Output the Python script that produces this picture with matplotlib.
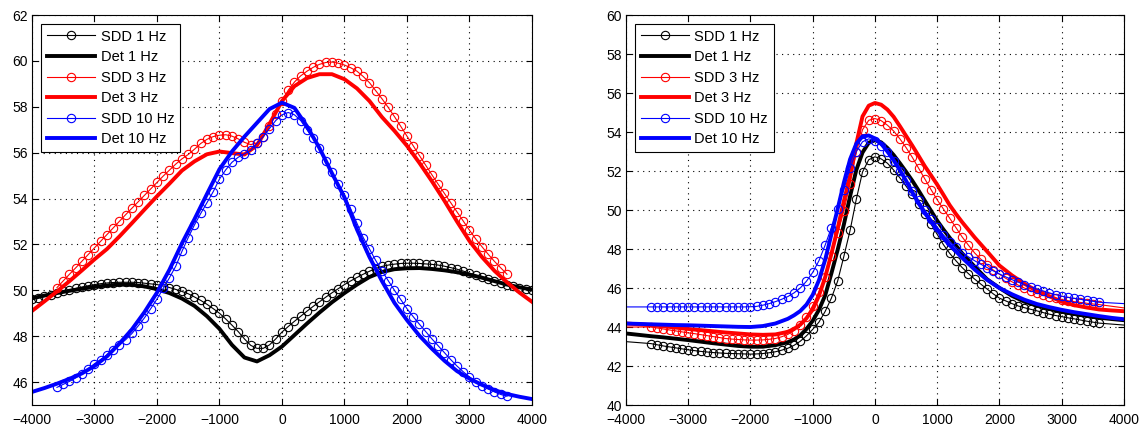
import matplotlib
matplotlib.use('Agg')
import matplotlib.pyplot as plt

plt.rcParams['font.family'] = ['Liberation Sans', 'DejaVu Sans']

# ---- left panel data ----
x_left_det = list(range(-4000, 4001, 200))
x_left_sdd1 = list(range(-4000, 4001, 100))
x_left_sdd = list(range(-3600, 3601, 100))

sdd1_left = [49.60, 49.67, 49.74, 49.81, 49.88, 49.95, 50.02, 50.08, 50.14, 50.20,
             50.25, 50.29, 50.32, 50.34, 50.35, 50.35, 50.35, 50.34, 50.31, 50.28,
             50.25, 50.19, 50.12, 50.04, 49.95, 49.85, 49.71, 49.56, 49.39, 49.20,
             49.00, 48.75, 48.48, 48.20, 47.88, 47.60, 47.47, 47.47, 47.62, 47.88,
             48.18, 48.42, 48.65, 48.87, 49.09, 49.30, 49.50, 49.70, 49.89, 50.07,
             50.25, 50.41, 50.56, 50.70, 50.83, 50.95, 51.04, 51.10, 51.14, 51.17,
             51.18, 51.18, 51.17, 51.15, 51.13, 51.10, 51.05, 50.99, 50.92, 50.84,
             50.75, 50.66, 50.57, 50.48, 50.39, 50.30, 50.23, 50.17, 50.11, 50.05,
             50.00]
det1_left = [49.65, 49.77, 49.88, 49.98, 50.07, 50.15, 50.21, 50.25, 50.24, 50.17,
             50.05, 49.88, 49.64, 49.32, 48.87, 48.32, 47.62, 47.07, 46.90, 47.17,
             47.55, 48.05, 48.55, 49.03, 49.48, 49.88, 50.25, 50.58, 50.80, 50.92,
             50.96, 50.97, 50.93, 50.87, 50.79, 50.68, 50.55, 50.40, 50.25, 50.13,
             50.03]
sdd3_left = [50.12, 50.41, 50.70, 50.98, 51.27, 51.56, 51.85, 52.14, 52.43, 52.72,
             53.01, 53.30, 53.58, 53.86, 54.14, 54.42, 54.70, 54.98, 55.24, 55.50,
             55.73, 55.92, 56.15, 56.40, 56.58, 56.70, 56.76, 56.78, 56.72, 56.60,
             56.45, 56.35, 56.42, 56.70, 57.15, 57.70, 58.25, 58.72, 59.08, 59.35,
             59.55, 59.72, 59.85, 59.93, 59.95, 59.90, 59.82, 59.70, 59.55, 59.32,
             59.05, 58.70, 58.35, 57.97, 57.57, 57.15, 56.72, 56.30, 55.87, 55.45,
             55.03, 54.62, 54.22, 53.82, 53.42, 53.02, 52.62, 52.24, 51.90, 51.57,
             51.26, 50.98, 50.70]
det3_left = [49.10, 49.52, 49.95, 50.40, 50.87, 51.35, 51.80, 52.35, 52.93, 53.52,
             54.10, 54.65, 55.22, 55.62, 55.93, 56.05, 55.98, 55.92, 56.32, 57.25,
             58.25, 58.90, 59.25, 59.42, 59.42, 59.20, 58.80, 58.25, 57.55, 56.95,
             56.30, 55.55, 54.75, 53.90, 53.00, 52.15, 51.45, 50.85, 50.35, 49.90,
             49.50]
sdd10_left = [45.77, 45.90, 46.03, 46.18, 46.35, 46.58, 46.80, 46.98, 47.18, 47.40,
              47.62, 47.85, 48.12, 48.45, 48.80, 49.20, 49.62, 50.08, 50.55, 51.05,
              51.70, 52.30, 52.85, 53.35, 53.82, 54.30, 54.85, 55.25, 55.58, 55.80,
              55.95, 56.10, 56.40, 56.70, 57.05, 57.40, 57.65, 57.75, 57.65, 57.40,
              57.00, 56.62, 56.20, 55.65, 55.15, 54.65, 54.15, 53.55, 52.92, 52.30,
              51.80, 51.30, 50.85, 50.42, 50.00, 49.60, 49.20, 48.85, 48.52, 48.20,
              47.88, 47.58, 47.28, 46.98, 46.70, 46.45, 46.22, 46.00, 45.85, 45.70,
              45.57, 45.46, 45.38]
det10_left = [45.57, 45.74, 45.93, 46.14, 46.38, 46.70, 47.12, 47.68, 48.30, 49.05,
              49.90, 50.90, 52.05, 53.10, 54.20, 55.28, 56.05, 56.70, 57.30, 57.90,
              58.18, 57.95, 57.15, 56.20, 55.10, 54.05, 52.65, 51.45, 50.40, 49.45,
              48.70, 48.02, 47.45, 46.93, 46.48, 46.15, 45.88, 45.65, 45.48, 45.36,
              45.26]

# ---- right panel data ----
x_right_det = list(range(-4000, -1399, 200)) + list(range(-1300, 1301, 100)) + list(range(1400, 4001, 200))
x_right_sdd = [-4000] + list(range(-3600, 3601, 100)) + [4000]

sdd1_right = [43.25,
              43.15, 43.09, 43.03, 42.98, 42.93, 42.88, 42.83, 42.79, 42.75, 42.72,
              42.69, 42.67, 42.65, 42.64, 42.63, 42.62, 42.61, 42.62, 42.64, 42.68,
              42.73, 42.81, 42.91, 43.06, 43.27, 43.55, 43.88, 44.25, 44.80, 45.48,
              46.35, 47.62, 48.95, 50.55, 51.95, 52.58, 52.73, 52.62, 52.40, 52.05,
              51.65, 51.22, 50.80, 50.30, 49.78, 49.28, 48.75, 48.22, 47.78, 47.40,
              47.05, 46.74, 46.46, 46.20, 45.95, 45.70, 45.48, 45.34, 45.20, 45.08,
              44.99, 44.91, 44.83, 44.74, 44.66, 44.59, 44.53, 44.47, 44.42, 44.36,
              44.30, 44.25, 44.20,
              44.10]
det1_right = [43.67, 43.60, 43.53, 43.47, 43.40, 43.33, 43.25, 43.17, 43.10, 43.03,
              42.99, 42.99, 43.07, 43.22,
              43.36, 43.57, 43.90, 44.32, 44.88, 45.62, 46.75, 47.95, 49.25, 50.70,
              52.05, 52.95, 53.45, 53.58, 53.47, 53.18, 52.82, 52.40, 51.96, 51.50,
              51.00, 50.48, 49.96, 49.45, 49.00, 48.58, 48.18,
              47.78, 47.10, 46.45, 46.00, 45.60, 45.30, 45.10, 44.93, 44.79, 44.67,
              44.57, 44.48, 44.41, 44.35]
sdd3_right = [44.00,
              44.00, 43.95, 43.90, 43.85, 43.80, 43.75, 43.70, 43.66, 43.61, 43.56,
              43.51, 43.46, 43.41, 43.38, 43.36, 43.34, 43.33, 43.33, 43.34, 43.37,
              43.41, 43.50, 43.62, 43.82, 44.10, 44.52, 45.10, 45.80, 46.55, 47.65,
              48.80, 49.95, 51.35, 52.95, 54.12, 54.60, 54.69, 54.58, 54.35, 54.05,
              53.65, 53.20, 52.70, 52.15, 51.60, 51.05, 50.52, 50.05, 49.58, 49.10,
              48.62, 48.20, 47.80, 47.48, 47.18, 46.92, 46.70, 46.50, 46.32, 46.15,
              46.00, 45.87, 45.75, 45.65, 45.56, 45.48, 45.41, 45.35, 45.30, 45.26,
              45.22, 45.18, 45.15,
              44.98]
det3_right = [44.18, 44.14, 44.09, 44.04, 43.97, 43.90, 43.84, 43.78, 43.72, 43.67,
              43.62, 43.60, 43.62, 43.75,
              43.90, 44.12, 44.45, 44.90, 45.60, 46.55, 47.75, 49.05, 50.45, 51.75,
              53.40, 54.80, 55.35, 55.49, 55.40, 55.15, 54.78, 54.30, 53.80, 53.30,
              52.78, 52.25, 51.78, 51.30, 50.78, 50.25, 49.80,
              49.38, 48.60, 47.88, 47.15, 46.65, 46.22, 45.85, 45.58, 45.30, 45.12,
              45.00, 44.90, 44.85, 44.81]
sdd10_right = [45.03,
               45.03, 45.03, 45.03, 45.03, 45.03, 45.03, 45.03, 45.03, 45.03, 45.03,
               45.03, 45.03, 45.03, 45.03, 45.03, 45.03, 45.04, 45.06, 45.12, 45.20,
               45.30, 45.42, 45.56, 45.75, 46.00, 46.35, 46.80, 47.40, 48.20, 49.10,
               50.05, 51.05, 52.15, 53.00, 53.50, 53.65, 53.55, 53.30, 52.95, 52.50,
               52.02, 51.52, 51.00, 50.50, 50.00, 49.55, 49.12, 48.72, 48.38, 48.08,
               47.82, 47.60, 47.40, 47.22, 47.05, 46.88, 46.72, 46.57, 46.43, 46.30,
               46.18, 46.06, 45.95, 45.85, 45.75, 45.66, 45.58, 45.52, 45.47, 45.42,
               45.37, 45.32, 45.27,
               45.20]
det10_right = [44.18, 44.16, 44.14, 44.12, 44.10, 44.09, 44.07, 44.05, 44.03, 44.01,
               44.00, 44.05, 44.18, 44.42,
               44.60, 44.82, 45.15, 45.65, 46.40, 47.45, 48.75, 50.05, 51.40, 52.60,
               53.40, 53.78, 53.82, 53.67, 53.40, 53.00, 52.55, 52.05, 51.50, 50.90,
               50.35, 49.85, 49.40, 49.00, 48.55, 48.20, 47.88,
               47.55, 46.95, 46.42, 46.00, 45.68, 45.40, 45.18, 45.02, 44.88, 44.76,
               44.66, 44.56, 44.47, 44.40]

labels = ['SDD 1 Hz', 'Det 1 Hz', 'SDD 3 Hz', 'Det 3 Hz', 'SDD 10 Hz', 'Det 10 Hz']
colors = ['black', 'red', 'blue']
xticks = list(range(-4000, 4001, 1000))
yticks_left = list(range(46, 63, 2))
yticks_right = list(range(40, 61, 2))


def draw_panel(ax, sdd, det, ylim, yticks, markevery):
    for i in range(3):
        xs, ys = sdd[i]
        ax.plot(xs, ys, color=colors[i], linewidth=0.8, marker='o', markersize=6,
                markerfacecolor='none', markeredgewidth=0.8, markevery=markevery[i],
                label=labels[2 * i])
        xd, yd = det[i]
        ax.plot(xd, yd, color=colors[i], linewidth=2.8, label=labels[2 * i + 1])

    ax.set_xlim([-4000, 4000])
    ax.set_ylim(ylim)
    ax.set_xticks(xticks)
    ax.set_yticks(yticks)

    # Add a grid
    ax.grid(True, color='black', linestyle=(0, (1, 4)), linewidth=0.8)
    ax.set_axisbelow(True)
    ax.tick_params(direction='in', top=True, right=True, length=4, width=0.8,
                   labelsize=10)
    ax.tick_params(axis='x', pad=6)
    ax.tick_params(axis='y', pad=3)
    for s in ax.spines.values():
        s.set_linewidth(0.8)

    leg = ax.legend(loc='upper left', bbox_to_anchor=(0, 1), borderaxespad=0.6,
                    fancybox=False, edgecolor='black', framealpha=1, fontsize=10.5,
                    handlelength=3.3, labelspacing=0.45, borderpad=0.4,
                    handletextpad=0.4)
    leg.get_frame().set_linewidth(0.8)


fig = plt.figure(figsize=(11.46, 4.30), dpi=100)
ax1 = fig.add_axes([0.0279, 0.0581, 0.4363, 0.907])
ax2 = fig.add_axes([0.5462, 0.0581, 0.4346, 0.907])

draw_panel(ax1,
           [(x_left_sdd1, sdd1_left), (x_left_sdd, sdd3_left), (x_left_sdd, sdd10_left)],
           [(x_left_det, det1_left), (x_left_det, det3_left), (x_left_det, det10_left)],
           [45, 62], yticks_left, [None, None, None])

every = slice(1, len(x_right_sdd) - 1)
draw_panel(ax2,
           [(x_right_sdd, sdd1_right), (x_right_sdd, sdd3_right), (x_right_sdd, sdd10_right)],
           [(x_right_det, det1_right), (x_right_det, det3_right), (x_right_det, det10_right)],
           [40, 60], yticks_right, [every, every, every])

plt.savefig('out.png', dpi=100)
plt.close()
